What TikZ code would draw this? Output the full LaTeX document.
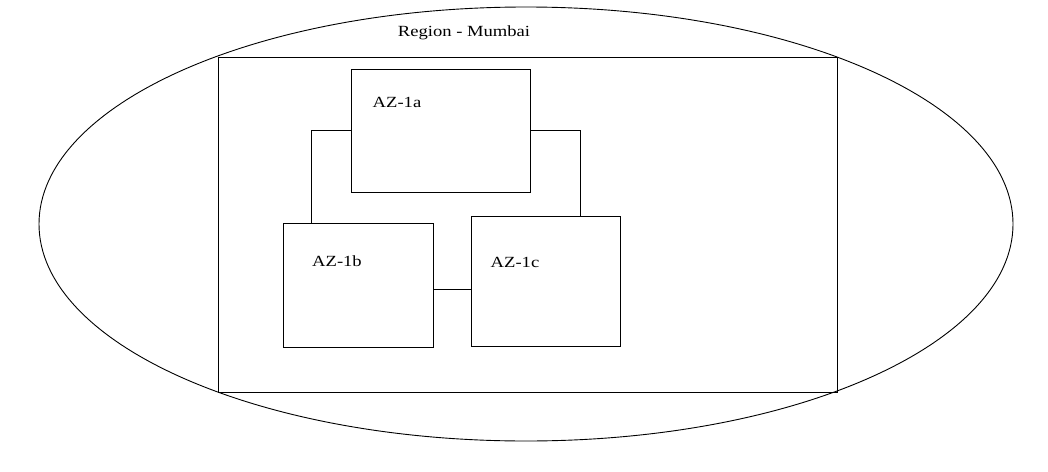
\documentclass[tikz,border=0pt]{standalone}
\usepackage{fontspec}
\setmainfont[FakeStretch=1.2]{Liberation Serif}
\usetikzlibrary{shapes.geometric}

\begin{document}
\begin{tikzpicture}[x=1pt, y=-1pt, line width=0.9pt,
		zone/.style={draw, rectangle, inner sep=0pt},
		zonetext/.style={inner sep=0pt, font=\fontsize{15.5}{17}\selectfont}]
			%%%%% START %%%%%
			
			\useasboundingbox (0, 0) rectangle (1048, 471);
			
			\node[draw, ellipse, inner sep=0pt, minimum width=974pt, minimum height=434pt] (region) at (526, 224) {};
			\node[zone, minimum width=619pt, minimum height=335pt] (mumbai) at (527.5, 224.5) {};
			\node[zonetext] (regiontext) at (464, 33) {Region - Mumbai};
			
			\node[zone, minimum width=179pt, minimum height=123pt] (az1a) at (440.5, 130.5) {};
			\node[zone, minimum width=150pt, minimum height=124pt] (az1b) at (358, 285) {};
			\node[zone, minimum width=149pt, minimum height=130pt] (az1c) at (545.5, 281) {};
			
			\node[zonetext] (az1atext) at (397, 102) {AZ-1a};
			\node[zonetext] (az1btext) at (337, 261) {AZ-1b};
			\node[zonetext] (az1ctext) at (515, 262) {AZ-1c};
			
			\draw (az1a.west) -| ([xshift=29pt]az1b.north west);
			\draw (az1a.east) -| ([xshift=110pt]az1c.north west);
			\draw ([yshift=-4pt]az1b.east) -- ([yshift=-4pt]az1b.east -| az1c.west);
			
			%%%%% END %%%%%
		\end{tikzpicture}
\end{document}
